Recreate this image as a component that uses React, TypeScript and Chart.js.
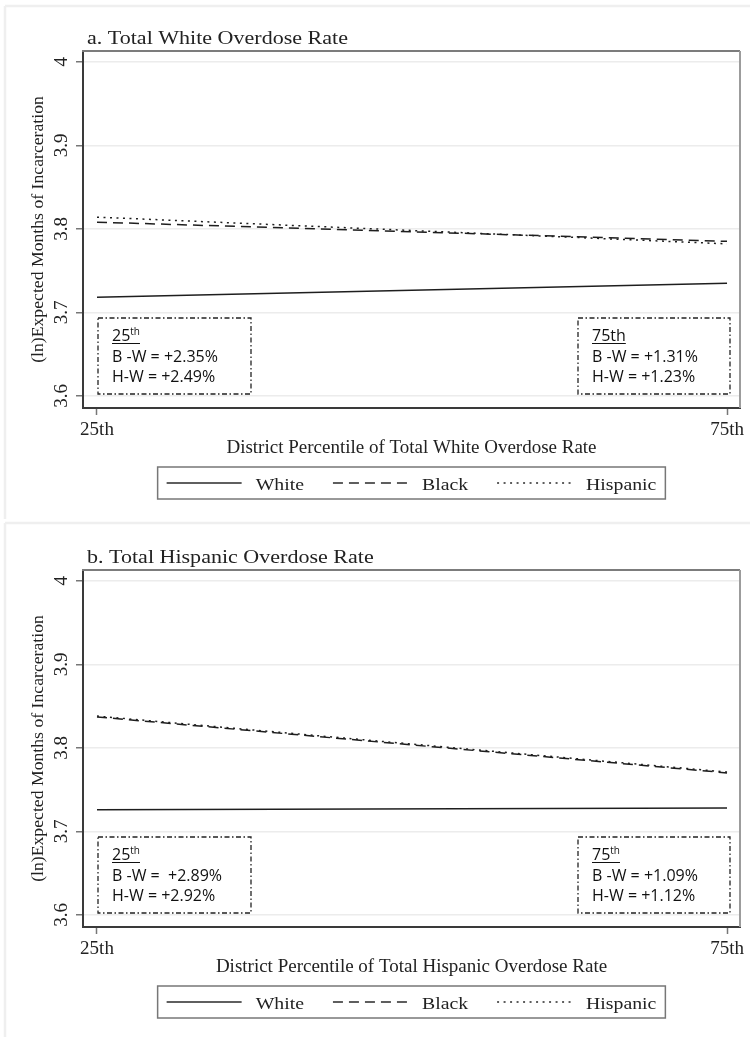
import React, { useEffect, useRef } from 'react';
import { Chart, registerables } from 'chart.js';

Chart.register(...registerables);

// ---------- data ----------
const percentiles = [25, 75];
const percentileLabels = ['25th', '75th'];
const yTickValues = [3.6, 3.7, 3.8, 3.9, 4];
const yTickLabels = ['3.6', '3.7', '3.8', '3.9', '4'];
const seriesNames = ['White', 'Black', 'Hispanic'];

const whiteA = [3.718, 3.735];
const blackA = [3.808, 3.785];
const hispanicA = [3.814, 3.782];

const whiteB = [3.726, 3.728];
const blackB = [3.837, 3.770];
const hispanicB = [3.838, 3.771];

const panelTitles = ['a. Total White Overdose Rate', 'b. Total Hispanic Overdose Rate'];
const xAxisTitles = [
  'District Percentile of Total White Overdose Rate',
  'District Percentile of Total Hispanic Overdose Rate',
];
const yAxisTitle = '(ln)Expected Months of Incarceration';

const headsA = [['25', 'th'], ['75th', '']];
const headsB = [['25', 'th'], ['75', 'th']];
const bwGapA = ['+2.35%', '+1.31%'];
const hwGapA = ['+2.49%', '+1.23%'];
const bwGapB = [' +2.89%', '+1.09%'];
const hwGapB = ['+2.92%', '+1.12%'];

// ---------- styles ----------
const SERIF = '"Liberation Serif", "Times New Roman", serif';
const SANS = '"Open Sans", "Noto Sans", sans-serif';
const INK = '#1e1e1e';
const DASHES = [[], [10, 6], [2, 4.5]];
const STRETCH = 1.13;

function drawStretched(ctx: CanvasRenderingContext2D, text: string, x: number, y: number, sx: number) {
  ctx.save();
  ctx.translate(x, y);
  ctx.scale(sx, 1);
  ctx.fillText(text, 0, 0);
  ctx.restore();
  return ctx.measureText(text).width * sx;
}

const decorPlugin = {
  id: 'decor',
  beforeDraw(chart: any, _args: any, opts: any) {
    const { ctx, width, height } = chart;
    ctx.save();
    ctx.fillStyle = '#ffffff';
    ctx.fillRect(0, 0, width, height);
    ctx.strokeStyle = '#efefef';
    ctx.lineWidth = 2.5;
    ctx.beginPath();
    const top = opts.first ? 6 : 4;
    ctx.moveTo(5, top);
    ctx.lineTo(width, top);
    ctx.moveTo(5, top);
    ctx.lineTo(5, height);
    ctx.stroke();
    ctx.restore();
  },
  afterDraw(chart: any, _args: any, opts: any) {
    const { ctx, chartArea: ca } = chart;
    ctx.save();
    // top / right frame
    ctx.lineWidth = 2;
    ctx.strokeStyle = '#7c7c7c';
    ctx.beginPath();
    ctx.moveTo(ca.left - 1, ca.top);
    ctx.lineTo(ca.right, ca.top);
    ctx.stroke();
    ctx.strokeStyle = '#9c9c9c';
    ctx.beginPath();
    ctx.moveTo(ca.right, ca.top);
    ctx.lineTo(ca.right, ca.bottom);
    ctx.stroke();

    // title
    ctx.fillStyle = '#222';
    ctx.textBaseline = 'alphabetic';
    ctx.textAlign = 'left';
    ctx.font = `19.5px ${SERIF}`;
    drawStretched(ctx, opts.title, 87, 44, STRETCH);

    // legend
    ctx.font = `17.5px ${SERIF}`;
    const sampleW = 75, textGap = 14, itemGap = 29, padX = 9;
    const widths = seriesNames.map((n) => ctx.measureText(n).width * STRETCH);
    const total = padX * 2 + seriesNames.length * (sampleW + textGap) + widths.reduce((a, b) => a + b, 0) + itemGap * (seriesNames.length - 1);
    const bx = (ca.left + ca.right) / 2 - total / 2;
    const by = ca.bottom + 59;
    const bh = 32;
    ctx.strokeStyle = '#777';
    ctx.lineWidth = 1.5;
    ctx.setLineDash([]);
    ctx.strokeRect(bx, by, total, bh);
    let cx = bx + padX;
    seriesNames.forEach((n, i) => {
      ctx.strokeStyle = '#2a2a2a';
      ctx.lineWidth = 1.4;
      ctx.setLineDash(DASHES[i]);
      ctx.beginPath();
      ctx.moveTo(cx, by + 16);
      ctx.lineTo(cx + sampleW, by + 16);
      ctx.stroke();
      ctx.setLineDash([]);
      cx += sampleW + textGap;
      ctx.fillStyle = '#222';
      drawStretched(ctx, n, cx, by + 23, STRETCH);
      cx += widths[i] + itemGap;
    });

    // annotation boxes
    const boxes = [
      { x: ca.left + 15, w: 153 },
      { x: ca.right - 162, w: 152 },
    ];
    const boxTop = ca.bottom - 90;
    const boxH = 76;
    boxes.forEach((b, i) => {
      ctx.strokeStyle = '#222';
      ctx.lineWidth = 1.3;
      ctx.setLineDash([5, 2.5, 1.5, 2.5]);
      ctx.strokeRect(b.x, boxTop, b.w, boxH);
      ctx.setLineDash([]);
      const tx = b.x + 14;
      const [head, sup] = opts.heads[i];
      ctx.fillStyle = '#111';
      ctx.font = `16px ${SANS}`;
      ctx.fillText(head, tx, boxTop + 23);
      let hw = ctx.measureText(head).width;
      if (sup) {
        ctx.font = `10px ${SANS}`;
        ctx.fillText(sup, tx + hw, boxTop + 17);
        hw += ctx.measureText(sup).width;
      }
      ctx.strokeStyle = '#111';
      ctx.lineWidth = 1;
      ctx.beginPath();
      ctx.moveTo(tx, boxTop + 25.5);
      ctx.lineTo(tx + hw, boxTop + 25.5);
      ctx.stroke();
      ctx.font = `16px ${SANS}`;
      ctx.fillText(`B -W = ${opts.bw[i]}`, tx, boxTop + 44);
      ctx.fillText(`H-W = ${opts.hw[i]}`, tx, boxTop + 64);
    });
    ctx.restore();
  },
};

type PanelProps = {
  idx: number;
  white: number[];
  black: number[];
  hispanic: number[];
  heads: string[][];
  bw: string[];
  hw: string[];
};

function Panel({ idx, white, black, hispanic, heads, bw, hw }: PanelProps) {
  const ref = useRef<HTMLCanvasElement>(null);
  useEffect(() => {
    const series = [white, black, hispanic];
    const chart = new Chart(ref.current as HTMLCanvasElement, {
      type: 'line',
      data: {
        datasets: seriesNames.map((name, i) => ({
          label: name,
          data: percentiles.map((p, j) => ({ x: p, y: series[i][j] })),
          borderColor: INK,
          borderWidth: 1.5,
          borderDash: DASHES[i],
          pointRadius: 0,
          tension: 0,
          fill: false,
        })),
      },
      options: {
        responsive: false,
        animation: false,
        events: [],
        layout: { padding: { left: 0, right: 10, top: 51, bottom: 0 } },
        plugins: {
          legend: { display: false },
          tooltip: { enabled: false },
          decor: { first: idx === 0, title: panelTitles[idx], heads, bw, hw },
        } as any,
        scales: {
          x: {
            type: 'linear',
            min: 23.889,
            max: 76.03,
            afterBuildTicks: (s: any) => {
              s.ticks = percentiles.map((v) => ({ value: v }));
            },
            afterFit: (s: any) => {
              s.height = 111;
            },
            ticks: {
              autoSkip: false,
              maxRotation: 0,
              minRotation: 0,
              padding: 4,
              color: '#222',
              font: { family: SERIF, size: 19 },
              callback: (v: any) => percentileLabels[percentiles.indexOf(Number(v))] ?? '',
            },
            grid: { drawOnChartArea: false, drawTicks: true, tickLength: 7, tickColor: '#777', tickWidth: 1.5 },
            border: { display: true, color: '#3a3a3a', width: 2 },
            title: {
              display: true,
              text: xAxisTitles[idx],
              color: '#222',
              font: { family: SERIF, size: 19 },
              padding: { top: 0, bottom: 60 },
            },
          },
          y: {
            type: 'linear',
            min: 3.5856,
            max: 4.0128,
            afterBuildTicks: (s: any) => {
              s.ticks = yTickValues.map((v) => ({ value: v }));
            },
            afterFit: (s: any) => {
              s.width = 83;
            },
            ticks: {
              minRotation: 90,
              maxRotation: 90,
              crossAlign: 'center',
              padding: 2,
              color: '#222',
              font: { family: SERIF, size: 19 },
              callback: (v: any) => {
                const k = yTickValues.findIndex((t) => Math.abs(t - Number(v)) < 1e-6);
                return k >= 0 ? yTickLabels[k] : '';
              },
            },
            grid: { color: '#ececec', lineWidth: 1.5, drawTicks: true, tickLength: 7, tickColor: '#777', tickWidth: 1.5 },
            border: { display: true, color: '#3a3a3a', width: 2 },
            title: {
              display: true,
              text: yAxisTitle,
              color: '#222',
              font: { family: SERIF, size: 17.7 },
              padding: { top: 28, bottom: 0 },
            },
          },
        },
      } as any,
      plugins: [decorPlugin as any],
    });
    return () => chart.destroy();
  }, []);
  return <canvas ref={ref} width={750} height={519} style={{ display: 'block' }} />;
}

export default function App() {
  return (
    <div style={{ position: 'absolute', left: 0, top: 0, width: 750, height: 1037, background: '#fff' }}>
      <Panel idx={0} white={whiteA} black={blackA} hispanic={hispanicA} heads={headsA} bw={bwGapA} hw={hwGapA} />
      <Panel idx={1} white={whiteB} black={blackB} hispanic={hispanicB} heads={headsB} bw={bwGapB} hw={hwGapB} />
    </div>
  );
}
